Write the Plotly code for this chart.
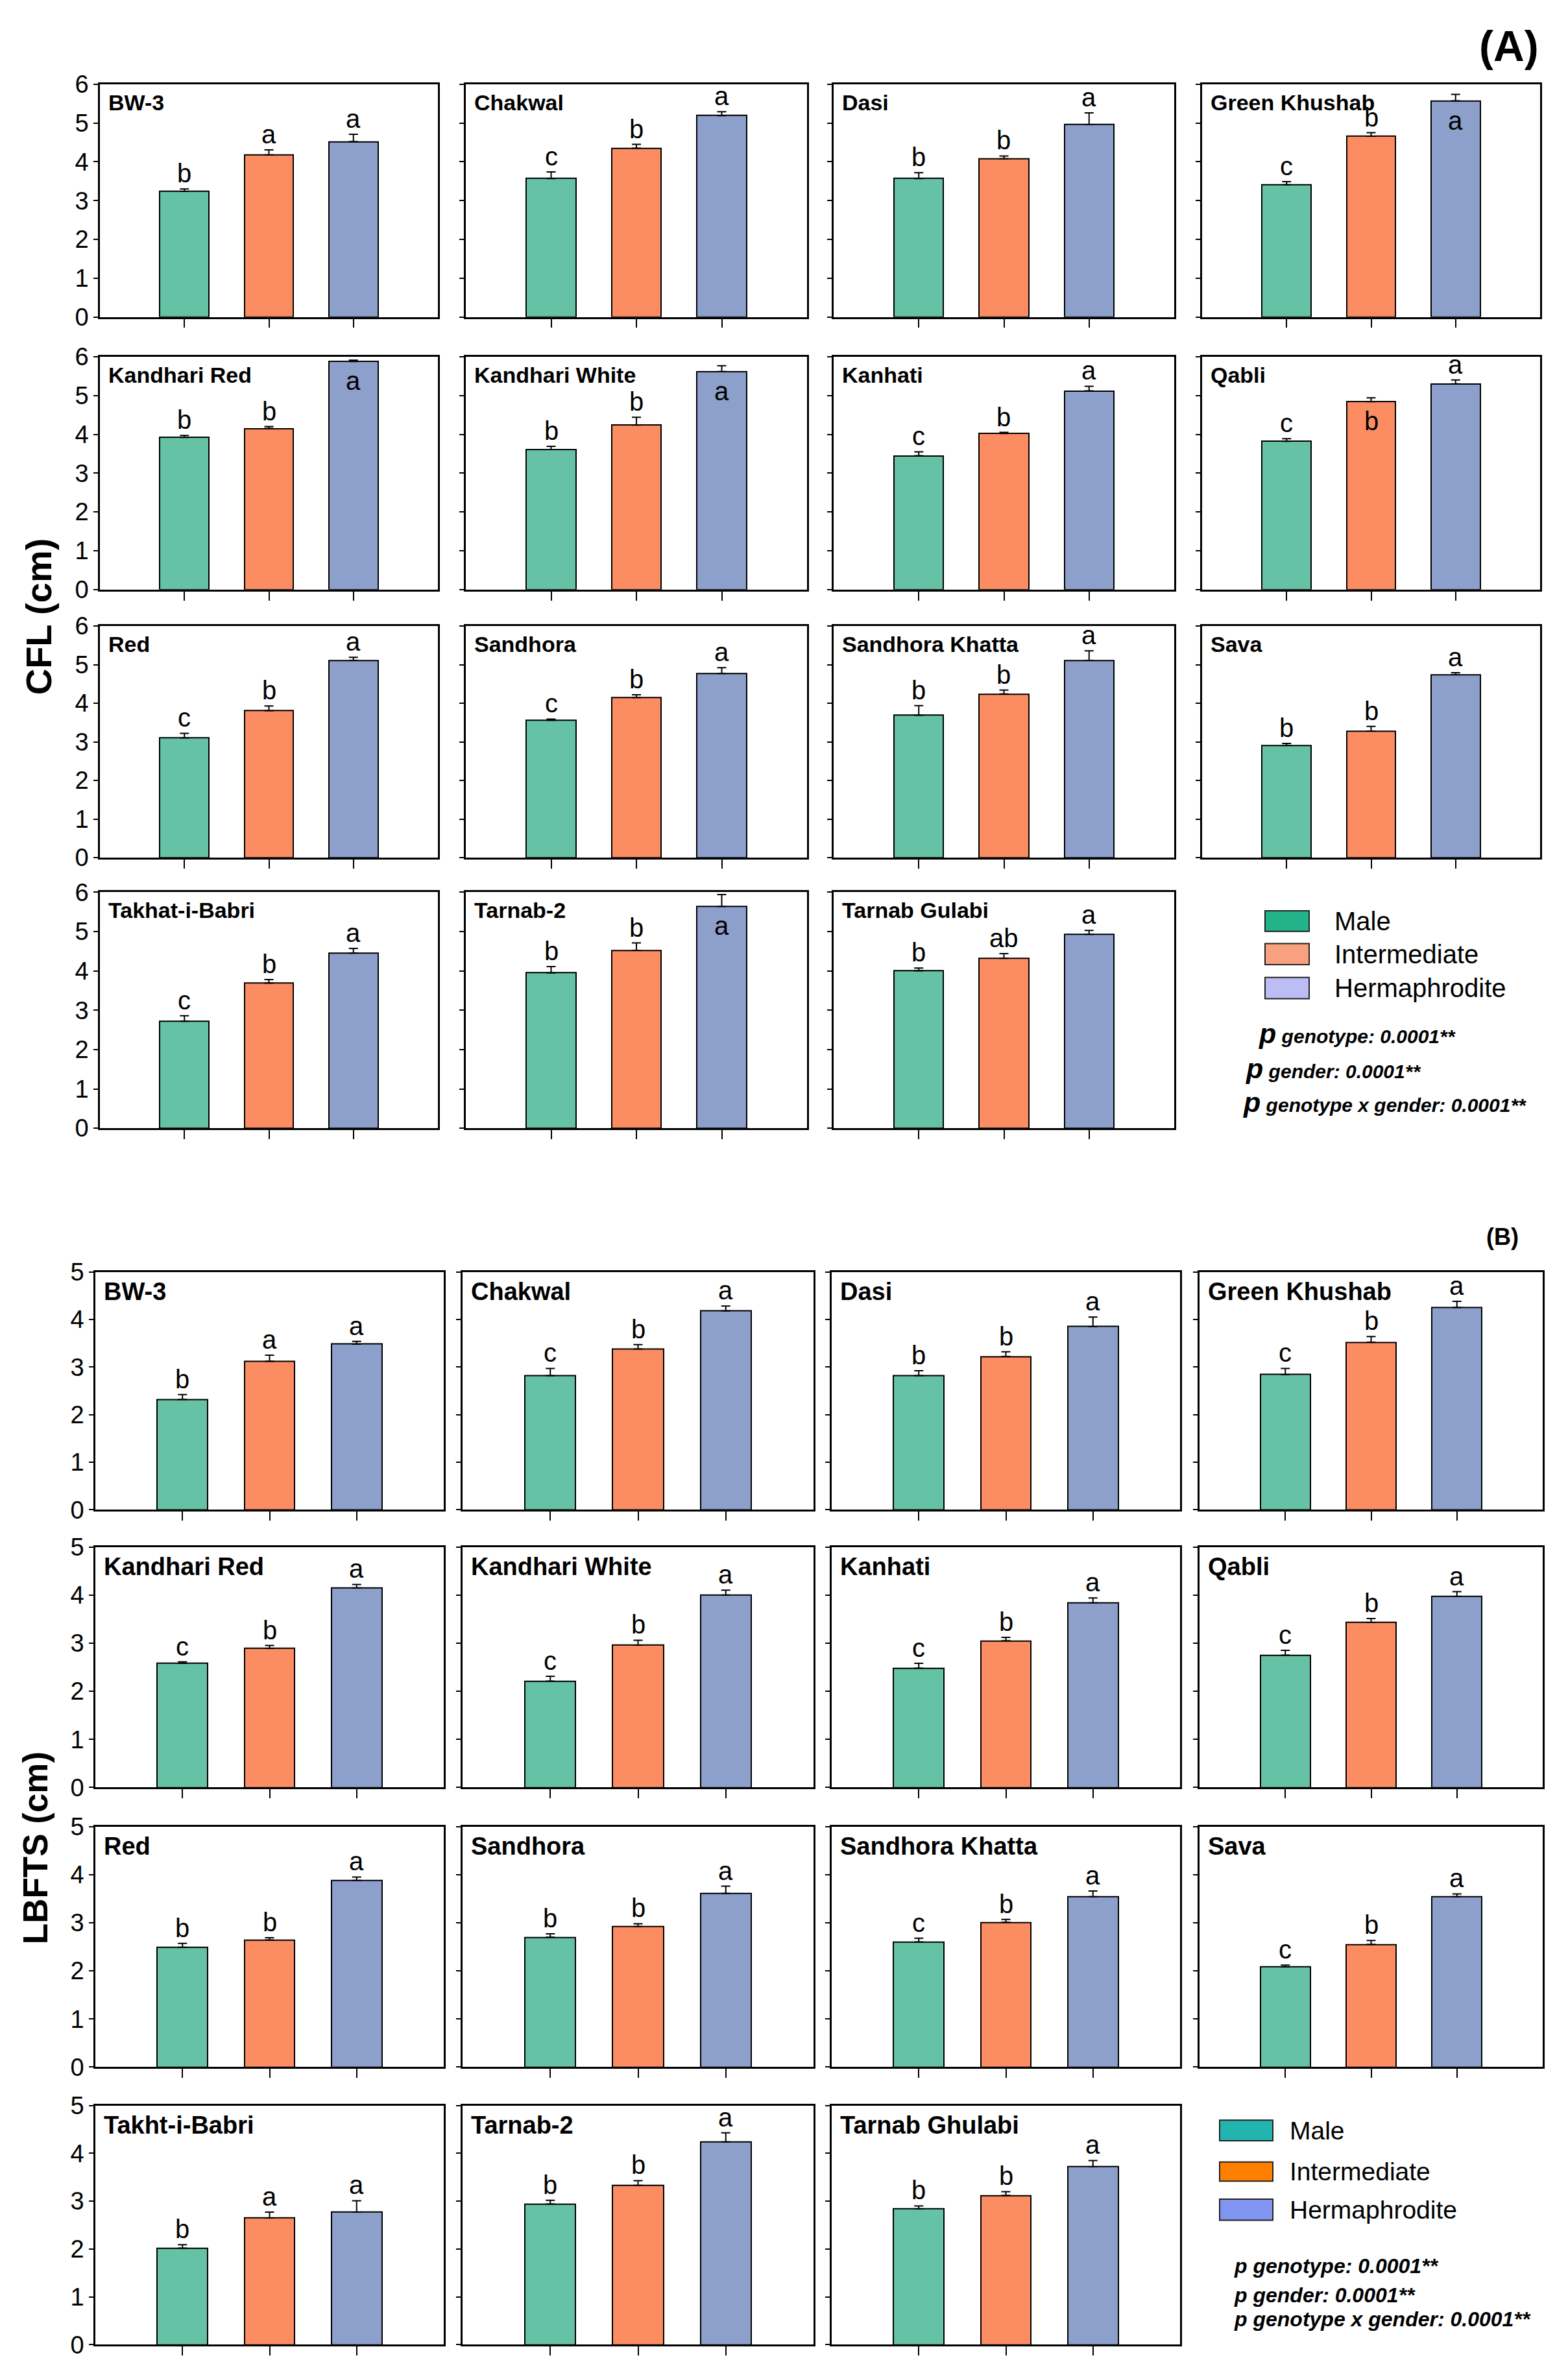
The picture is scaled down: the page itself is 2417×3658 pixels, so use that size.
import plotly.graph_objects as go

W, H = 2417, 3658
FONT = "Liberation Sans"
OFF = 8  # browser default body margin compensation (px)

sexes = ["Male", "Intermediate", "Hermaphrodite"]
bar_colors = ["#66C2A5", "#FC8D62", "#8DA0CB"]
bar_positions = [1, 2, 3]

# ---------------- (A) CFL (cm) ----------------
genotypes_A = ["BW-3", "Chakwal", "Dasi", "Green Khushab",
               "Kandhari Red", "Kandhari White", "Kanhati", "Qabli",
               "Red", "Sandhora", "Sandhora Khatta", "Sava",
               "Takhat-i-Babri", "Tarnab-2", "Tarnab Gulabi"]
cfl_male = [3.24, 3.57, 3.57, 3.41, 3.92, 3.61, 3.45, 3.82, 3.10, 3.56, 3.69, 2.91, 2.72, 3.95, 4.00]
cfl_inter = [4.18, 4.35, 4.08, 4.66, 4.15, 4.24, 4.02, 4.84, 3.81, 4.15, 4.24, 3.28, 3.69, 4.52, 4.32]
cfl_herm = [4.52, 5.19, 4.96, 5.57, 5.88, 5.62, 5.12, 5.30, 5.11, 4.77, 5.11, 4.74, 4.45, 5.64, 4.93]
cfl_male_se = [0.06, 0.17, 0.15, 0.08, 0.05, 0.08, 0.10, 0.07, 0.12, 0.03, 0.25, 0.05, 0.14, 0.16, 0.07]
cfl_inter_se = [0.13, 0.10, 0.07, 0.09, 0.05, 0.20, 0.03, 0.10, 0.12, 0.07, 0.10, 0.12, 0.09, 0.19, 0.12]
cfl_herm_se = [0.19, 0.10, 0.30, 0.17, 0.03, 0.15, 0.12, 0.10, 0.08, 0.15, 0.25, 0.05, 0.12, 0.30, 0.10]
cfl_letters = [["b", "a", "a"], ["c", "b", "a"], ["b", "b", "a"], ["c", "b", "a"],
               ["b", "b", "a"], ["b", "b", "a"], ["c", "b", "a"], ["c", "b", "a"],
               ["c", "b", "a"], ["c", "b", "a"], ["b", "b", "a"], ["b", "b", "a"],
               ["c", "b", "a"], ["b", "b", "a"], ["b", "ab", "a"]]
# (panel index, bar index) whose letter sits inside the bar
cfl_inside = {(3, 2), (4, 2), (5, 2), (7, 1), (13, 2)}

# ---------------- (B) LBFTS (cm) ----------------
genotypes_B = ["BW-3", "Chakwal", "Dasi", "Green Khushab",
               "Kandhari Red", "Kandhari White", "Kanhati", "Qabli",
               "Red", "Sandhora", "Sandhora Khatta", "Sava",
               "Takht-i-Babri", "Tarnab-2", "Tarnab Ghulabi"]
lbfts_male = [2.32, 2.82, 2.82, 2.84, 2.58, 2.21, 2.48, 2.75, 2.49, 2.70, 2.60, 2.08, 2.02, 2.94, 2.84]
lbfts_inter = [3.12, 3.38, 3.22, 3.52, 2.89, 2.96, 3.05, 3.43, 2.64, 2.92, 3.01, 2.55, 2.65, 3.33, 3.12]
lbfts_herm = [3.48, 4.18, 3.85, 4.25, 4.15, 4.00, 3.84, 3.97, 3.88, 3.61, 3.54, 3.54, 2.77, 4.24, 3.72]
lbfts_male_se = [0.10, 0.15, 0.10, 0.13, 0.03, 0.10, 0.10, 0.10, 0.08, 0.07, 0.08, 0.04, 0.07, 0.08, 0.06]
lbfts_inter_se = [0.13, 0.09, 0.10, 0.12, 0.06, 0.10, 0.07, 0.08, 0.05, 0.06, 0.06, 0.08, 0.12, 0.10, 0.08]
lbfts_herm_se = [0.06, 0.10, 0.20, 0.13, 0.07, 0.10, 0.10, 0.10, 0.07, 0.15, 0.12, 0.06, 0.24, 0.19, 0.13]
lbfts_letters = [["b", "a", "a"], ["c", "b", "a"], ["b", "b", "a"], ["c", "b", "a"],
                 ["c", "b", "a"], ["c", "b", "a"], ["c", "b", "a"], ["c", "b", "a"],
                 ["b", "b", "a"], ["b", "b", "a"], ["c", "b", "a"], ["c", "b", "a"],
                 ["b", "a", "a"], ["b", "b", "a"], ["b", "b", "a"]]
lbfts_inside = set()

p_lines = ["genotype: 0.0001**", "gender: 0.0001**", "genotype x gender: 0.0001**"]

# ---------------- layout geometry (pixels) ----------------
rows_A = [(110, 473), (535, 898), (955, 1316), (1370, 1738)]
cols_A = [(154, 675), (718, 1244), (1285, 1810), (1853, 2374)]
rows_B = [(1962, 2333), (2391, 2766), (2827, 3202), (3262, 3635)]
cols_B = [(147, 684), (713, 1254), (1282, 1819), (1849, 2378)]

fig = go.Figure()
annotations = []
shapes = []


def px_x(v):
    return (v - OFF) / W


def px_y(v):
    return 1 - (v - OFF) / H


def add_block(start, names, male, inter, herm, se_m, se_i, se_h, letters, inside, rows, cols, ymax,
              title_size):
    for k, name in enumerate(names):
        r, c = divmod(k, 4)
        idx = start + k
        ax = "" if idx == 1 else str(idx)
        vals = [male[k], inter[k], herm[k]]
        errs = [se_m[k], se_i[k], se_h[k]]
        fig.add_trace(go.Bar(
            x=bar_positions, y=vals, width=0.58,
            marker=dict(color=bar_colors, line=dict(color="black", width=2)),
            error_y=dict(type="data", array=errs, arrayminus=[0, 0, 0], symmetric=False,
                         color="black", thickness=2, width=7),
            xaxis="x" + ax, yaxis="y" + ax, showlegend=False, hoverinfo="skip"))
        x0, x1 = cols[c]
        y0, y1 = rows[r]
        fig.update_layout(**{
            "xaxis" + ax: dict(domain=[px_x(x0), px_x(x1)], range=[0, 4], anchor="y" + ax,
                               tickvals=bar_positions, ticks="outside", ticklen=14, tickwidth=2,
                               tickcolor="black", showticklabels=False, showline=True,
                               linecolor="black", linewidth=2.5, mirror=True, showgrid=False,
                               zeroline=False, fixedrange=True),
            "yaxis" + ax: dict(domain=[px_y(y1), px_y(y0)], range=[0, ymax], anchor="x" + ax,
                               tickvals=list(range(ymax + 1)), ticks="outside", ticklen=7,
                               tickwidth=2, tickcolor="black", showticklabels=(c == 0),
                               tickfont=dict(family=FONT, size=38, color="black"),
                               showline=True, linecolor="black", linewidth=2.5, mirror=True,
                               showgrid=False, zeroline=False, fixedrange=True),
        })
        annotations.append(dict(text="<b>%s</b>" % name, xref="x%s domain" % ax, yref="y%s domain" % ax,
                                x=0, y=1, xanchor="left", yanchor="top", xshift=11, yshift=-7,
                                showarrow=False, font=dict(family=FONT, size=title_size, color="black")))
        for j in range(3):
            if (k, j) in inside:
                annotations.append(dict(text=letters[k][j], xref="x" + ax, yref="y" + ax,
                                        x=bar_positions[j], y=vals[j], xanchor="center", yanchor="top",
                                        yshift=-6, showarrow=False,
                                        font=dict(family=FONT, size=40, color="black")))
            else:
                annotations.append(dict(text=letters[k][j], xref="x" + ax, yref="y" + ax,
                                        x=bar_positions[j], y=vals[j] + errs[j], xanchor="center",
                                        yanchor="bottom", yshift=0, showarrow=False,
                                        font=dict(family=FONT, size=40, color="black")))


add_block(1, genotypes_A, cfl_male, cfl_inter, cfl_herm, cfl_male_se, cfl_inter_se, cfl_herm_se,
          cfl_letters, cfl_inside, rows_A, cols_A, 6, 34)
add_block(16, genotypes_B, lbfts_male, lbfts_inter, lbfts_herm, lbfts_male_se, lbfts_inter_se,
          lbfts_herm_se, lbfts_letters, lbfts_inside, rows_B, cols_B, 5, 38)

# axis titles and panel tags
annotations.append(dict(text="<b>CFL (cm)</b>", xref="paper", yref="paper", x=px_x(59), y=px_y(940),
                        textangle=-90, showarrow=False, xanchor="center", yanchor="middle",
                        font=dict(family=FONT, size=56, color="black")))
annotations.append(dict(text="<b>LBFTS (cm)</b>", xref="paper", yref="paper", x=px_x(54), y=px_y(2861),
                        textangle=-90, showarrow=False, xanchor="center", yanchor="middle",
                        font=dict(family=FONT, size=53, color="black")))
annotations.append(dict(text="<b>(A)</b>", xref="paper", yref="paper", x=px_x(2326), y=px_y(50),
                        showarrow=False, xanchor="center", yanchor="middle",
                        font=dict(family=FONT, size=66, color="black")))
annotations.append(dict(text="<b>(B)</b>", xref="paper", yref="paper", x=px_x(2316), y=px_y(1907),
                        showarrow=False, xanchor="center", yanchor="middle",
                        font=dict(family=FONT, size=36, color="black")))

# legend (A)
legA_colors = ["#22B38A", "#F9A080", "#BDBDF5"]
legA_rows = [(1399, 1431), (1450, 1483), (1503, 1536)]
for s, colr, (ya, yb) in zip(sexes, legA_colors, legA_rows):
    shapes.append(dict(type="rect", xref="paper", yref="paper", x0=px_x(1950), x1=px_x(2018),
                       y0=px_y(yb), y1=px_y(ya), fillcolor=colr, line=dict(color="#222222", width=2)))
    annotations.append(dict(text=s, xref="paper", yref="paper", x=px_x(2055), y=px_y((ya + yb) / 2),
                            xanchor="left", yanchor="middle", showarrow=False,
                            font=dict(family=FONT, size=40, color="black")))
for line, xs, yc in zip(p_lines, [1938, 1918, 1914], [1590, 1645, 1697]):
    annotations.append(dict(text="<b><i><span style='font-size:43px'>p</span> %s</i></b>" % line,
                            xref="paper", yref="paper", x=px_x(xs), y=px_y(yc), xanchor="left",
                            yanchor="middle", showarrow=False,
                            font=dict(family=FONT, size=30, color="black")))

# legend (B)
legB_colors = ["#22B5B0", "#FF8000", "#8094F0"]
legB_rows = [(3285, 3317), (3350, 3380), (3408, 3441)]
for s, colr, (ya, yb) in zip(sexes, legB_colors, legB_rows):
    shapes.append(dict(type="rect", xref="paper", yref="paper", x0=px_x(1880), x1=px_x(1962),
                       y0=px_y(yb), y1=px_y(ya), fillcolor=colr, line=dict(color="#222222", width=2)))
    annotations.append(dict(text=s, xref="paper", yref="paper", x=px_x(1986), y=px_y((ya + yb) / 2),
                            xanchor="left", yanchor="middle", showarrow=False,
                            font=dict(family=FONT, size=39, color="black")))
for line, yc in zip(p_lines, [3512, 3558, 3595]):
    annotations.append(dict(text="<b><i>p %s</i></b>" % line, xref="paper", yref="paper",
                            x=px_x(1900), y=px_y(yc), xanchor="left", yanchor="middle", showarrow=False,
                            font=dict(family=FONT, size=32, color="black")))

fig.update_layout(width=W, height=H, margin=dict(l=0, r=0, t=0, b=0),
                  paper_bgcolor="white", plot_bgcolor="white", bargap=0,
                  font=dict(family=FONT, color="black"),
                  annotations=annotations, shapes=shapes, showlegend=False)

fig.write_html("out.html")
